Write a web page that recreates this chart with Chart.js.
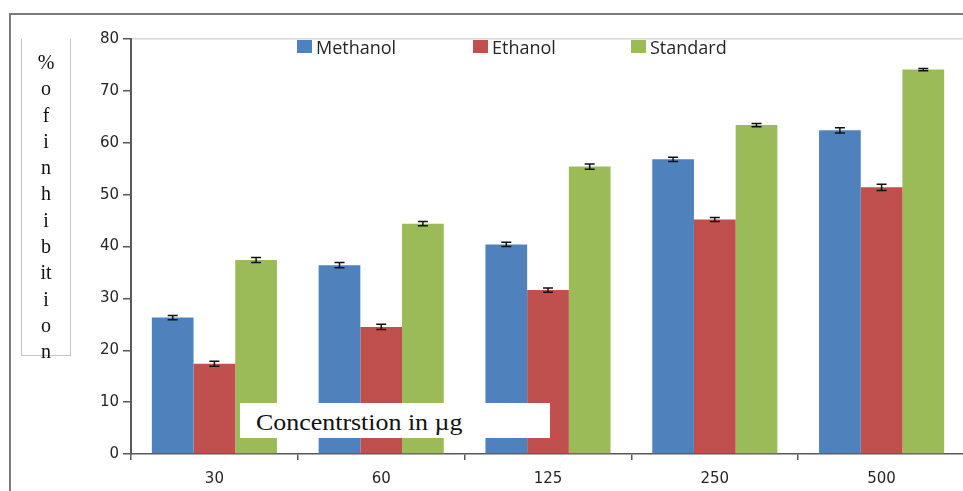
<!DOCTYPE html>
<html>
<head>
<meta charset="utf-8">
<script src="https://cdn.jsdelivr.net/npm/chart.js@4.4.1/dist/chart.umd.min.js"></script>
<style>
  html, body { margin: 0; padding: 0; background: #fff; overflow: hidden; }
  #wrap { position: relative; width: 963px; height: 491px; overflow: hidden; background: #fff; }
  #cwrap { position: absolute; left: 0; top: 0; width: 965px; height: 491px; }
  .ov { position: absolute; }
  #frameTop { left: 9px; top: 13px; width: 954px; height: 0; border-top: 2px solid #7a7a7a; }
  #frameLeft { left: 9px; top: 13px; width: 0; height: 478px; border-left: 2px solid #7a7a7a; }
  #ybox { left: 21px; top: 39px; width: 48px; height: 316px; border: 1.5px solid #c4c4c4; border-top: none; }
  #yletters { left: 21px; top: 49px; width: 50px; text-align: center; font-family: "Liberation Serif", "DejaVu Serif", serif; font-size: 20px; line-height: 26.3px; color: #111; }
  #concBox { left: 240px; top: 403px; width: 310px; height: 35px; background: #fff; }
  #concText { position: absolute; left: 16px; top: 5px; font-family: "Liberation Serif", "DejaVu Serif", serif; font-size: 24px; line-height: 28px; color: #111; white-space: nowrap; transform: scaleX(1.08); transform-origin: left center; }
</style>
</head>
<body>
<div id="wrap">
  <div id="cwrap"><canvas id="c"></canvas></div>
  <div class="ov" id="frameTop"></div>
  <div class="ov" id="frameLeft"></div>
  <div class="ov" id="ybox"></div>
  <div class="ov" id="yletters"></div>
  <div class="ov" id="concBox"><span id="concText">Concentrstion in µg</span></div>
</div>
<script>
// ---- data ----
const categories = ['30', '60', '125', '250', '500'];
const seriesNames = ['Methanol', 'Ethanol', 'Standard'];
const methanol = [26.3, 36.4, 40.4, 56.8, 62.4];
const ethanol  = [17.4, 24.5, 31.6, 45.2, 51.4];
const standard = [37.4, 44.4, 55.4, 63.4, 74.1];
const methanolErr = [0.4, 0.5, 0.4, 0.4, 0.5];
const ethanolErr  = [0.5, 0.5, 0.4, 0.4, 0.6];
const standardErr = [0.5, 0.4, 0.5, 0.3, 0.2];
const yTicks = [0, 10, 20, 30, 40, 50, 60, 70, 80];
const yTitleLetters = ['%', 'o', 'f', 'i', 'n', 'h', 'i', 'b', 'it', 'i', 'o', 'n'];
const xTitle = 'Concentrstion in µg';

const colors = ['#4F81BD', '#C0504D', '#9BBB59'];
const legendX = [297, 473, 631];

document.getElementById('yletters').innerHTML = yTitleLetters.map(l => '<div>' + l + '</div>').join('');
document.getElementById('concText').textContent = xTitle;

const errors = [methanolErr, ethanolErr, standardErr];

const errorBarPlugin = {
  id: 'errorBars',
  afterDatasetsDraw(chart) {
    const ctx = chart.ctx;
    const ys = chart.scales.y;
    ctx.save();
    ctx.strokeStyle = '#111';
    ctx.lineWidth = 1.5;
    chart.data.datasets.forEach((ds, i) => {
      const meta = chart.getDatasetMeta(i);
      meta.data.forEach((el, j) => {
        const v = ds.data[j], e = errors[i][j];
        const x = el.x;
        const yt = ys.getPixelForValue(v + e);
        const yb = ys.getPixelForValue(v - e);
        ctx.beginPath();
        ctx.moveTo(x, yt); ctx.lineTo(x, yb);
        ctx.moveTo(x - 5, yt); ctx.lineTo(x + 5, yt);
        ctx.moveTo(x - 5, yb); ctx.lineTo(x + 5, yb);
        ctx.stroke();
      });
    });
    ctx.restore();
  }
};

const legendPlugin = {
  id: 'customLegend',
  afterDraw(chart) {
    const ctx = chart.ctx;
    ctx.save();
    ctx.font = '18px "Open Sans", "DejaVu Sans", sans-serif';
    ctx.textBaseline = 'alphabetic';
    chart.data.datasets.forEach((ds, i) => {
      const x = legendX[i];
      ctx.fillStyle = ds.backgroundColor;
      ctx.fillRect(x, 40, 15, 13);
      ctx.fillStyle = '#262626';
      ctx.fillText(ds.label, x + 19, 54);
    });
    ctx.restore();
  }
};

new Chart(document.getElementById('c'), {
  type: 'bar',
  data: {
    labels: categories,
    datasets: [
      { label: seriesNames[0], data: methanol, backgroundColor: colors[0] },
      { label: seriesNames[1], data: ethanol, backgroundColor: colors[1] },
      { label: seriesNames[2], data: standard, backgroundColor: colors[2] }
    ]
  },
  options: {
    responsive: true,
    maintainAspectRatio: false,
    animation: false,
    datasets: { bar: { categoryPercentage: 0.75, barPercentage: 1.0 } },
    layout: { padding: { top: 39, left: 0, right: 0, bottom: 0 } },
    plugins: { legend: { display: false }, tooltip: { enabled: false } },
    scales: {
      x: {
        grid: { display: true, drawOnChartArea: false, offset: true, tickLength: 6, tickColor: '#595959', lineWidth: 1.5 },
        border: { display: true, color: '#595959', width: 1.5 },
        ticks: { color: '#262626', font: { family: 'DejaVu Sans', size: 15 }, padding: 10 },
        afterFit(scale) { scale.height = 37; }
      },
      y: {
        min: 0, max: 80,
        afterBuildTicks(scale) { scale.ticks = yTicks.map(v => ({ value: v })); },
        grid: {
          color: c => (c.tick && c.tick.value === 80 ? '#d6d6d6' : 'rgba(0,0,0,0)'),
          tickColor: '#595959', tickLength: 8, lineWidth: 1.5
        },
        border: { display: true, color: '#595959', width: 2 },
        ticks: { color: '#262626', font: { family: 'DejaVu Sans', size: 15 }, padding: 4 },
        afterFit(scale) { scale.width = 131; }
      }
    }
  },
  plugins: [errorBarPlugin, legendPlugin]
});
</script>
</body>
</html>
